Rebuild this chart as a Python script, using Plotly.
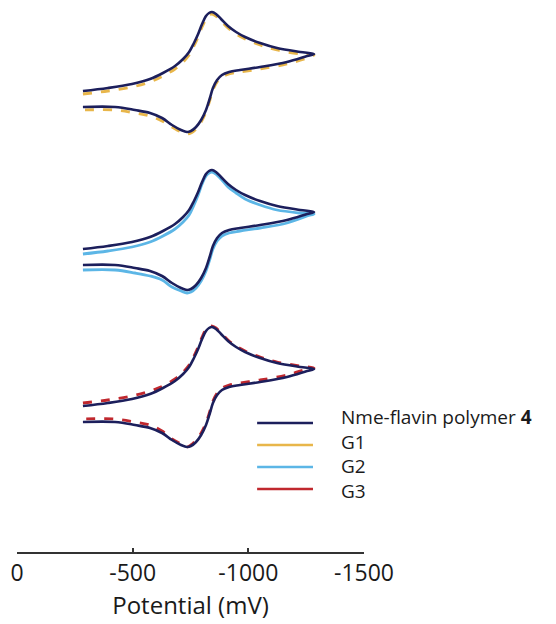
import plotly.graph_objects as go

# Potential (mV): forward (reductive) sweep then return sweep
potential = [-285, -393, -497, -575, -631, -683, -718, -744, -765, -783, -800, -817, -830,
             -843, -860, -882, -912, -947, -986, -1051, -1124, -1224, -1284,
             -1254, -1167, -1051, -964, -917, -886, -865, -847, -834, -817, -796, -774,
             -752, -735, -709, -670, -627, -575, -510, -424, -285]

# Current (arbitrary units, relative to start of each voltammogram)
nme_polymer4 = [0, 3, 7, 12, 18, 25, 32, 39, 48, 57, 67, 75, 78,
                79, 77, 72, 65, 59, 54, 48, 43, 39, 37,
                35, 29, 24, 21, 19, 16, 11, 3, -7, -19, -29, -36,
                -40, -41, -39, -34, -27, -22, -19, -16, -16]
g1 = [-3, 0, 4, 9, 15, 22, 29, 36, 45, 54, 64, 72, 76,
      77, 75, 70, 63, 57, 52, 46, 41, 37, 36,
      33, 27, 22, 19, 17, 14, 9, 1, -9, -21, -31, -38,
      -42, -43, -41, -36, -30, -25, -22, -19, -19]
g2 = [-5, -2, 2, 7, 13, 20, 27, 34, 44, 54, 65, 73, 76,
      77, 75, 70, 62, 56, 50, 44, 39, 36, 35,
      33, 26, 21, 18, 16, 13, 8, 0, -10, -22, -32, -39,
      -43, -44, -42, -38, -31, -27, -24, -21, -21]
g3 = [3, 6, 10, 15, 20, 27, 34, 41, 50, 59, 69, 77, 80,
      80, 78, 73, 66, 60, 55, 49, 44, 40, 38,
      37, 31, 26, 23, 21, 18, 13, 5, -5, -17, -27, -34,
      -39, -41, -38, -33, -25, -19, -16, -13, -13]

# vertical stacking offsets of the three panels (arbitrary units)
offsets = [461, 303, 146]

labels = ["Nme-flavin polymer <b>4</b>", "G1", "G2", "G3"]
colors = ["#1c1f5c", "#e8b64a", "#5cb6e6", "#c0282e"]

tick_vals = [0, -500, -1000, -1500]
tick_text = ["0", "-500", "-1000", "-1500"]

fig = go.Figure()

pairs = [(g1, colors[1], "dash"), (g2, colors[2], "solid"), (g3, colors[3], "dash")]
for (gdata, col, dash), off in zip(pairs, offsets):
    fig.add_trace(go.Scatter(x=potential, y=[v + off for v in gdata], mode="lines",
                             line=dict(color=col, width=2.8, dash=dash, shape="spline", smoothing=1.0),
                             showlegend=False, hoverinfo="skip"))
    fig.add_trace(go.Scatter(x=potential, y=[v + off for v in nme_polymer4], mode="lines",
                             line=dict(color=colors[0], width=2.6, shape="spline", smoothing=1.0),
                             showlegend=False, hoverinfo="skip"))

# manual legend (paper coordinates): line samples + one multi-line text block
line_rows = [0.2337, 0.1938, 0.1540, 0.1141]
for col, ly in zip(colors, line_rows):
    fig.add_shape(type="line", xref="paper", yref="paper", x0=0.692, x1=0.853, y0=ly, y1=ly,
                  line=dict(color=col, width=2.6))
fig.add_annotation(xref="paper", yref="paper", x=0.927, y=0.1775, text="<br>".join(labels),
                   showarrow=False, xanchor="left", yanchor="middle", align="left",
                   font=dict(family="Open Sans", size=19, color="#1a1a1a"))

fig.update_layout(
    width=556, height=624,
    margin=dict(l=17, r=192, t=0, b=72),
    paper_bgcolor="white", plot_bgcolor="white",
    xaxis=dict(range=[0, -1500], tickvals=tick_vals, ticktext=tick_text,
               showgrid=False, zeroline=False, showline=True, linecolor="#333", linewidth=1.5,
               ticks="inside", ticklen=4, tickcolor="#333", tickwidth=1.5,
               tickfont=dict(family="Open Sans", size=23, color="#1a1a1a"),
               title=dict(text="Potential (mV)", font=dict(family="Open Sans", size=24, color="#1a1a1a"),
                          standoff=0)),
    yaxis=dict(range=[0, 552], visible=False, fixedrange=True),
)

fig.write_html("out.html")
